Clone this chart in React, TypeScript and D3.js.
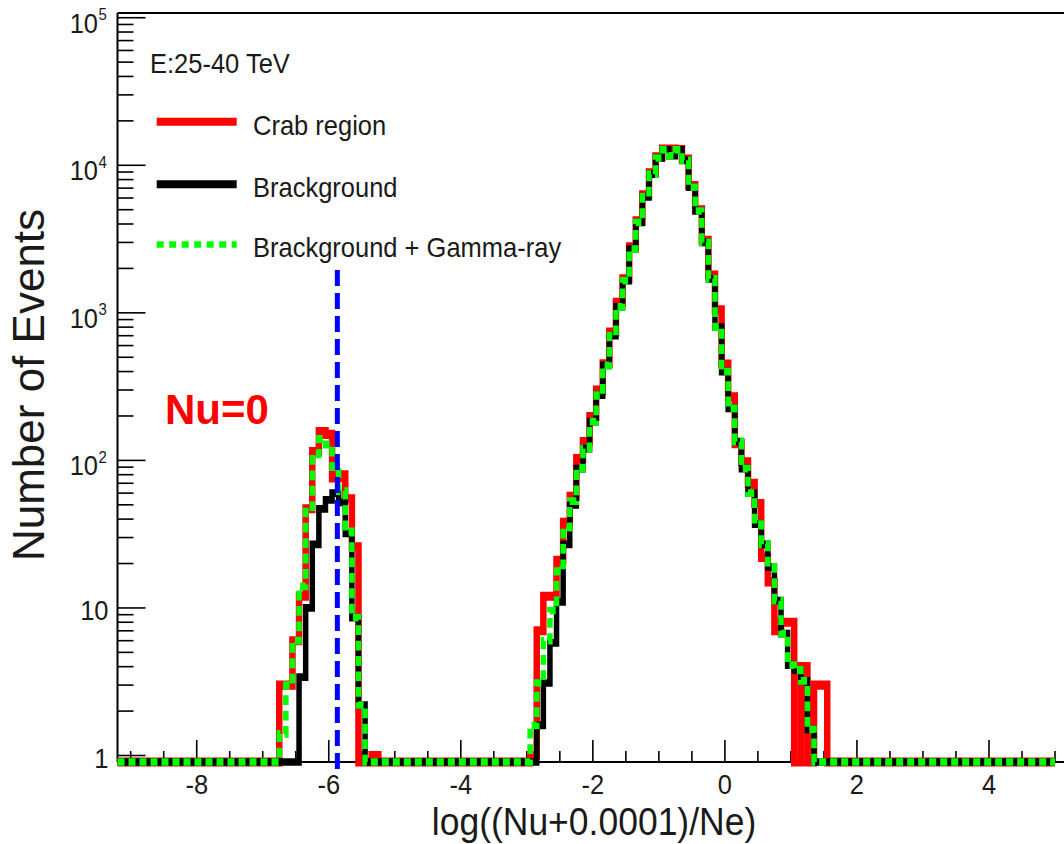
import React from 'react';
import * as d3 from 'd3';

const W = 1064;
const H = 844;
const BIN = 0.1;
const X_MIN = -9.2;
const X_MAX = 5.0;
const Y_MIN = Math.pow(10, -0.044);
const Y_MAX = Math.pow(10, 5.032);

const xMajorTicks = [-8, -6, -4, -2, 0, 2, 4];
const xTickLabels = ['-8', '-6', '-4', '-2', '0', '2', '4'];
const xMinorStep = 0.5;
const yMajorTicks = [1, 10, 100, 1000, 10000, 100000];
const yTickBase = ['1', '10', '10', '10', '10', '10'];
const yTickExp = ['', '', '2', '3', '4', '5'];

// first peak (Nu = 0), bin centres from -6.8 in steps of 0.1
const peak1Start = -6.8;
const crabPeak1 = [0, 3, 3, 6, 12, 47, 115, 157, 150, 76, 80, 55, 26, 0, 0, 1];
const bkgPeak1 = [0, 0, 0, 0, 3.4, 10, 27, 47, 54, 60, 52, 32, 8.6, 2.2, 0, 0];
const sumPeak1 = [0, 1.4, 3, 6, 14, 45, 110, 140, 128, 90, 62, 33, 8.6, 2.2, 0, 0];

// main peak, bin centres from -3.0 in steps of 0.1
const peak2Start = -3.0;
const crabPeak2 = [
  0, 1, 7, 12, 12, 21, 38, 57, 103, 134,
  198, 300, 452, 740, 1180, 1700, 2800, 4200, 6300, 8900,
  11400, 12900, 12900, 12800, 11000, 7300, 5000, 3100, 1800, 1050,
  450, 270, 130, 98, 70, 51, 22, 15, 7, 8,
  8, 0, 4, 0, 3, 3, 0,
];
const bkgPeak2 = [
  0, 0, 1.6, 3.1, 5.8, 11, 27, 50, 88, 120,
  183, 277, 440, 700, 1100, 1650, 2700, 4100, 6100, 8700,
  11200, 12700, 11600, 12700, 10800, 7100, 4900, 3000, 1700, 800,
  400, 225, 134, 88, 60, 37, 27, 19, 11.2, 6.7,
  4.1, 3.8, 3.2, 1.5, 0, 0, 0,
];
const sumPeak2 = [
  0, 1.6, 3.1, 6, 9.6, 17.8, 35, 53, 88, 120,
  183, 277, 440, 700, 1100, 1650, 2700, 4100, 6100, 8700,
  11200, 12700, 11600, 12700, 10800, 7100, 4900, 3000, 1700, 800,
  400, 225, 134, 88, 60, 37, 27, 19, 11.2, 6.7,
  4.1, 3.8, 3.2, 1.5, 0, 0, 0,
];

const cutX = -5.87;
const cutTop = 1950;

const legendItems = [
  { label: 'Crab region', color: '#ff0000', dash: '' },
  { label: 'Brackground', color: '#000000', dash: '' },
  { label: 'Brackground + Gamma-ray', color: '#00ff00', dash: '7 5.5' },
];

const FONT = '"Liberation Sans", Arial, Helvetica, sans-serif';
const S = 1.4; // horizontal strokes drawn thicker than vertical ones
const TS = 1.1; // glyphs slightly taller than wide, as in the picture

function buildSeries(parts: [number, number[]][]) {
  const n = Math.round((X_MAX - X_MIN) / BIN) + 1;
  const arr: number[] = new Array(n).fill(0);
  parts.forEach(([start, vals]) => {
    const i0 = Math.round((start - X_MIN) / BIN);
    vals.forEach((v, k) => {
      if (i0 + k >= 0 && i0 + k < n) arr[i0 + k] = v;
    });
  });
  const pts: [number, number][] = arr.map((v, i) => [
    Math.max(X_MIN, X_MIN + i * BIN - BIN / 2),
    v,
  ]);
  pts.push([X_MAX, arr[n - 1]]);
  return pts;
}

function T(props: {
  x: number;
  y: number;
  size: number;
  anchor?: string;
  fill?: string;
  weight?: string;
  children: React.ReactNode;
}) {
  const { x, y, size, anchor = 'start', fill = '#1a1a1a', weight = 'normal', children } = props;
  return (
    <text
      transform={`translate(${x},${y}) scale(1,${TS})`}
      fontSize={size}
      textAnchor={anchor}
      fill={fill}
      fontWeight={weight}
    >
      {children}
    </text>
  );
}

export default function App() {
  const x = d3.scaleLinear().domain([X_MIN, X_MAX]).range([117.5, 1055]);
  const y = d3.scaleLog().domain([Y_MIN, Y_MAX]).range([762, 13]);
  const yPos = (v: number) => (v > 0 ? y(Math.max(v, Y_MIN)) : y(Y_MIN));
  const left = x(X_MIN);
  const bottom = y(Y_MIN);
  const top = y(Y_MAX);

  const line = d3
    .line<[number, number]>()
    .x((d) => x(d[0]))
    .y((d) => yPos(d[1]) / S)
    .curve(d3.curveStepAfter);

  const crab = buildSeries([[peak1Start, crabPeak1], [peak2Start, crabPeak2]]);
  const bkg = buildSeries([[peak1Start, bkgPeak1], [peak2Start, bkgPeak2]]);
  const sum = buildSeries([[peak1Start, sumPeak1], [peak2Start, sumPeak2]]);

  const xMinor = d3.range(-9, X_MAX + 0.001, xMinorStep).filter(
    (t) => !xMajorTicks.some((m) => Math.abs(m - t) < 1e-6)
  );
  const yMinor: number[] = [];
  for (let k = 0; k < 5; k++) for (let m = 2; m <= 9; m++) yMinor.push(m * Math.pow(10, k));

  return (
    <svg
      width={W}
      height={H}
      style={{ position: 'absolute', left: 0, top: 0, background: '#fff' }}
      fontFamily={FONT}
    >
      <rect x={0} y={0} width={W} height={H} fill="#fff" />
      {/* frame */}
      <line x1={left} x2={W} y1={top} y2={top} stroke="#000" strokeWidth={2} />
      <line x1={left} x2={left} y1={top} y2={bottom} stroke="#000" strokeWidth={2} />
      <line x1={left} x2={W} y1={bottom} y2={bottom} stroke="#000" strokeWidth={2} />

      {/* x ticks */}
      {xMajorTicks.map((t, i) => (
        <g key={'xm' + t}>
          <line x1={x(t)} x2={x(t)} y1={bottom} y2={bottom - 22} stroke="#000" strokeWidth={1.6} />
          <T x={x(t)} y={794} size={25.5} anchor="middle">
            {xTickLabels[i]}
          </T>
        </g>
      ))}
      {xMinor.map((t) => (
        <line key={'xn' + t} x1={x(t)} x2={x(t)} y1={bottom} y2={bottom - 11} stroke="#000" strokeWidth={1.6} />
      ))}

      {/* y ticks */}
      {yMajorTicks.map((t, i) => (
        <g key={'ym' + t}>
          <line x1={left} x2={left + 28} y1={y(t)} y2={y(t)} stroke="#000" strokeWidth={1.6} />
          {yTickExp[i] === '' ? (
            <T x={108.5} y={y(t) + 12.5} size={25.5} anchor="end">
              {yTickBase[i]}
            </T>
          ) : (
            <g>
              <T x={98} y={y(t) + 15} size={25.5} anchor="end">
                {yTickBase[i]}
              </T>
              <T x={98.5} y={y(t) + 2.5} size={15}>
                {yTickExp[i]}
              </T>
            </g>
          )}
        </g>
      ))}
      {yMinor.map((t) => (
        <line key={'yn' + t} x1={left} x2={left + 16} y1={y(t)} y2={y(t)} stroke="#000" strokeWidth={1.6} />
      ))}

      {/* histograms */}
      <g transform={`scale(1, ${S})`} fill="none" strokeLinejoin="miter" strokeLinecap="butt">
        <path d={line(crab) || ''} stroke="#ff0000" strokeWidth={6.5} />
        <path d={line(bkg) || ''} stroke="#000000" strokeWidth={5.5} />
        <path d={line(sum) || ''} stroke="#00ff00" strokeWidth={5.5} strokeDasharray="7 4" />
      </g>

      {/* Nu=0 cut */}
      <line
        x1={x(cutX)}
        x2={x(cutX)}
        y1={yPos(cutTop)}
        y2={bottom + 13}
        stroke="#0000ff"
        strokeWidth={5}
        strokeDasharray="16 7"
      />

      {/* legend */}
      <T x={150} y={73} size={25.5}>
        E:25-40 TeV
      </T>
      {legendItems.map((it, i) => {
        const ly = [121.7, 184.2, 244.5][i];
        const ty = [135, 196.5, 256.7][i];
        return (
          <g key={it.label}>
            <line
              x1={156.7}
              x2={236.7}
              y1={ly}
              y2={ly}
              stroke={it.color}
              strokeWidth={i === 2 ? 6.5 : 8}
              strokeDasharray={it.dash || undefined}
            />
            <T x={253} y={ty} size={25.5}>
              {it.label}
            </T>
          </g>
        );
      })}

      <text x={165} y={424} fontSize={42} fontWeight="bold" fill="#ff0000">
        Nu=0
      </text>

      <text
        transform="translate(44,385) rotate(-90)"
        fontSize={44}
        textAnchor="middle"
        fill="#1a1a1a"
      >
        Number of Events
      </text>
      <T x={594} y={835} size={35.5} anchor="middle">
        log((Nu+0.0001)/Ne)
      </T>
    </svg>
  );
}
